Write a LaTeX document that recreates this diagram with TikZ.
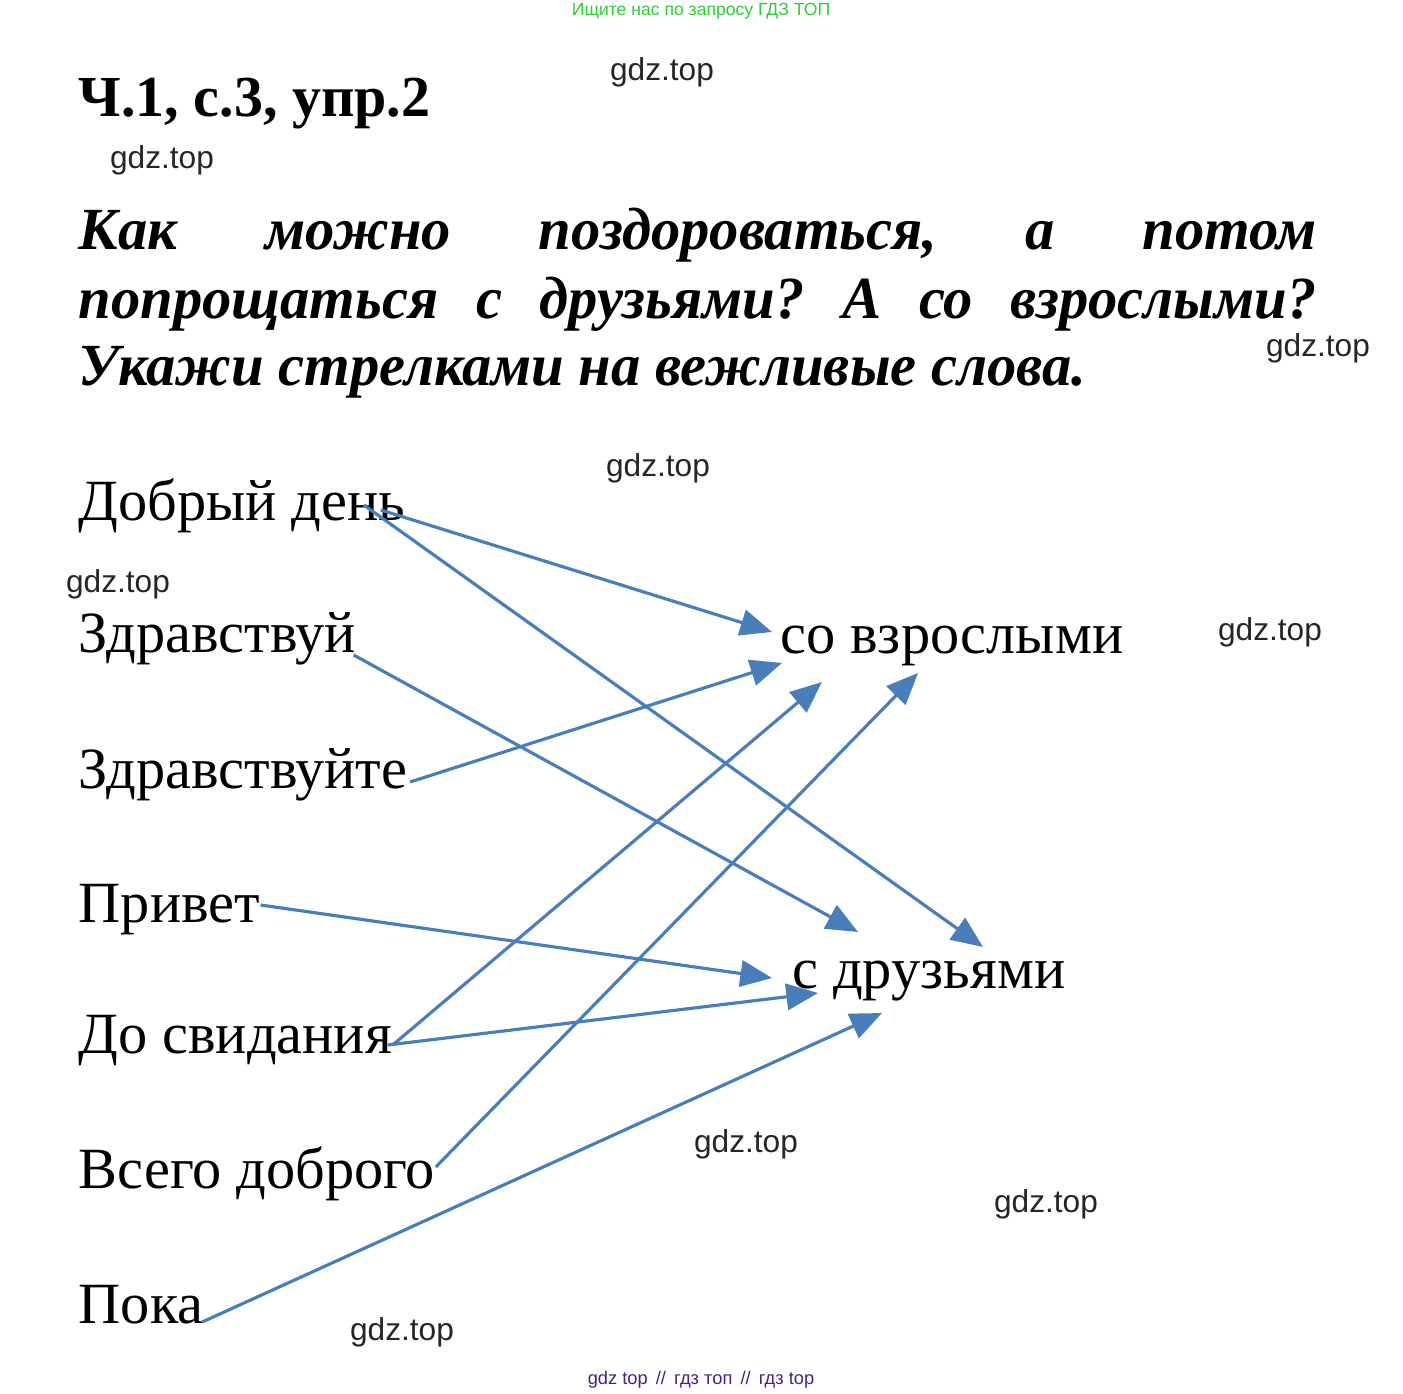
\documentclass[tikz,border=0pt]{standalone}
\usepackage{fontspec}
\setmainfont{Liberation Serif}
\newfontfamily\wmfont{Liberation Sans}
\newfontfamily\qfont[FakeStretch=0.98]{Liberation Serif}
\usetikzlibrary{arrows.meta}
\definecolor{arrowblue}{HTML}{4A7EBB}
\definecolor{wmgray}{HTML}{262626}
\definecolor{topgreen}{HTML}{2ECC33}
\definecolor{botpurple}{HTML}{4B1F7F}
\tikzset{
	word/.style={anchor=base west,inner sep=0pt,font=\fontsize{16.6}{20}\selectfont},
	qline/.style={anchor=base west,inner sep=0pt,font=\qfont\bfseries\itshape\fontsize{17}{20}\selectfont},
	wm/.style={inner sep=0pt,text=wmgray,font=\wmfont\fontsize{9}{10}\selectfont},
	arr/.style={draw=arrowblue,line width=0.9pt,-{Triangle[length=9pt,width=7.5pt]}}
}
\begin{document}
\begin{tikzpicture}[x=0.01cm,y=-0.01cm]
	\useasboundingbox (0,0) rectangle (1403,1394);
	\node[inner sep=0pt,text=topgreen,font=\wmfont\fontsize{5}{6}\selectfont] (top) at (701,11) {Ищите нас по запросу ГДЗ ТОП};
	\node[anchor=base west,inner sep=0pt,font=\bfseries\fontsize{16.5}{20}\selectfont] (title) at (78,117) {Ч.1, с.3, упр.2};
	\node[qline] (q1) at (78,250) {\hbox to 12.37cm{Как\hfill можно\hfill поздороваться,\hfill а\hfill потом}};
	\node[qline] (q2) at (78,318) {\hbox to 12.37cm{попрощаться\hfill с\hfill друзьями?\hfill А\hfill со\hfill взрослыми?}};
	\node[qline] (q3) at (78,385) {Укажи стрелками на вежливые слова.};

	\node[word] (dd) at (78,520) {Добрый день};
	\node[word] (zv) at (78,652) {Здравствуй};
	\node[word] (zvt) at (78,788) {Здравствуйте};
	\node[word] (pr) at (78,922) {Привет};
	\node[word] (ds) at (78,1053) {До свидания};
	\node[word] (vd) at (78,1188) {Всего доброго};
	\node[word] (pk) at (78,1323) {Пока};
	\node[word] (vz) at (780,653) {со взрослыми};
	\node[word] (dr) at (792,988) {с друзьями};

	\draw[arr] ([shift={(-25,-10)}]dd.base east) -- ([shift={(-8,-21)}]vz.base west);
	\draw[arr] ([shift={(-42,-15)}]dd.base east) -- ([shift={(191,-41)}]dr.base west);
	\draw[arr] ([shift={(-3,3)}]zv.base east) -- ([shift={(66,-56)}]dr.base west);
	\draw[arr] ([shift={(2,-6)}]zvt.base east) -- ([shift={(2,10)}]vz.base west);
	\draw[arr] ([shift={(0,-17)}]pr.base east) -- ([shift={(-20,-10)}]dr.base west);
	\draw[arr] ([shift={(0,-8)}]ds.base east) -- ([shift={(42,29)}]vz.base west);
	\draw[arr] ([shift={(-5,-8)}]ds.base east) -- ([shift={(26,5)}]dr.base west);
	\draw[arr] ([shift={(0,-21)}]vd.base east) -- ([shift={(138,20)}]vz.base west);
	\draw[arr] ([shift={(-2,-1)}]pk.base east) -- ([shift={(90,25)}]dr.base west);

	\node[wm] (w1) at (662,72) {gdz.top};
	\node[wm] (w2) at (162,160) {gdz.top};
	\node[wm] (w3) at (1318,348) {gdz.top};
	\node[wm] (w4) at (658,468) {gdz.top};
	\node[wm] (w5) at (118,584) {gdz.top};
	\node[wm] (w6) at (1270,632) {gdz.top};
	\node[wm] (w7) at (746,1144) {gdz.top};
	\node[wm] (w8) at (1046,1204) {gdz.top};
	\node[wm] (w9) at (402,1332) {gdz.top};
	\node[inner sep=0pt,text=botpurple,font=\wmfont\fontsize{5.2}{6}\selectfont] (bot) at (701,1380) {gdz top \,//\, гдз топ \,//\, гдз top};
\end{tikzpicture}
\end{document}
